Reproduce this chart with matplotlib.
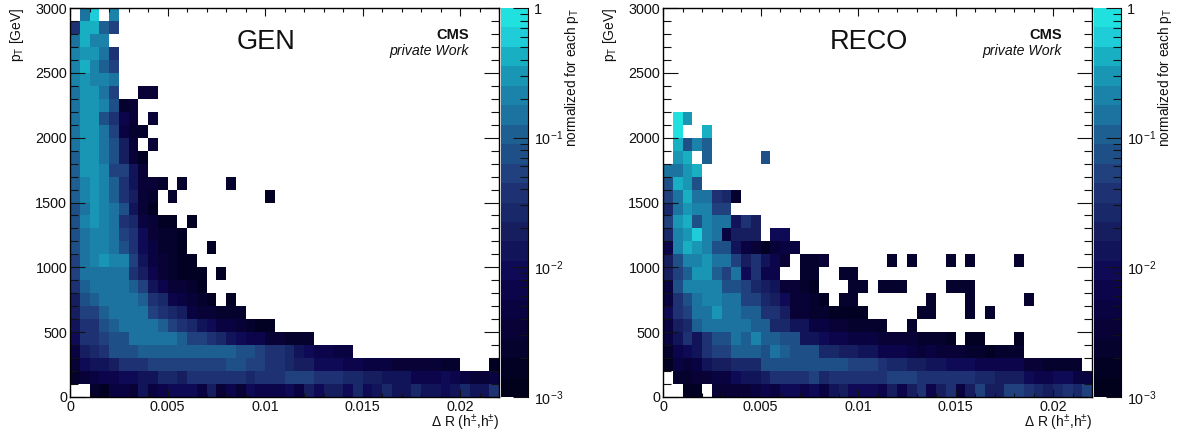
import numpy as np
import matplotlib
matplotlib.use("Agg")
import matplotlib.pyplot as plt
from matplotlib.colors import ListedColormap, BoundaryNorm
from matplotlib.ticker import FixedLocator, NullFormatter

plt.rcParams['font.family'] = ['Liberation Sans', 'DejaVu Sans']
plt.rcParams['mathtext.fontset'] = 'custom'
plt.rcParams['mathtext.rm'] = 'Liberation Sans'
plt.rcParams['mathtext.it'] = 'Liberation Sans:italic'
plt.rcParams['mathtext.bf'] = 'Liberation Sans:bold'

N = None
NCOL = 44
NROW = 30
XMAX = 0.022
YMAX = 3000
NLEV = 20

# Each cell: colour-band index (0..19); rows go from pT 0-100 upward.
gen_rows = [
 [N,N,2,1,4,4,3,7,4,5,6,6,6,4,8,3,5,3,6,5,5,5,6,4,8,6,8,8,6,9,6,7,9,7,7,9,7,7,6,7,9,7,7,10],
 [2,3,4,5,5,6,6,7,7,9,9,8,10,10,10,10,10,10,9,10,10,10,11,11,11,10,10,10,9,9,8,8,7,7,7,5,5,5,6,5,4,3,3,4],
 [3,6,7,7,8,10,10,10,11,11,11,11,11,11,11,11,12,12,11,11,10,10,9,8,8,6,6,6,5,5,4,4,4,3,3,3,3,3,2,2,N,N,N,1],
 [4,8,9,10,12,12,12,13,13,13,13,13,13,13,13,13,13,12,12,11,10,10,9,7,6,5,5,4,4],
 [6,10,10,11,12,12,14,14,14,14,14,13,11,11,10,9,7,6,5,5,3,3,2,2,2],
 [7,10,10,12,13,14,14,14,14,13,11,10,9,7,6,4,4,3,2,1,1],
 [8,11,11,13,14,14,14,14,11,10,9,8,4,3,3,2,2,2],
 [8,12,13,14,14,14,14,13,10,9,5,4,3,2,1,N,1],
 [10,13,14,14,14,14,13,11,7,5,3,3,2,1],
 [11,14,14,14,14,14,10,8,5,3,2,1,1,1,N,1],
 [11,14,15,16,15,15,11,7,4,3,2,1,1],
 [12,14,15,15,14,12,10,6,4,2,2,1,N,N,1],
 [12,14,15,15,14,11,10,6,3,2,2,1],
 [12,15,16,15,14,10,9,4,3,1,1,N,1],
 [12,14,16,15,14,12,7,3,1],
 [13,15,16,15,13,10,8,3,2,N,2,N,N,N,N,N,N,N,N,N,1],
 [13,15,16,15,13,10,7,3,3,2,N,2,N,N,N,N,2],
 [13,16,16,15,11,11,7,3],
 [13,16,16,14,12,8,3,1],
 [14,16,16,14,12,8,3,N,3],
 [14,16,16,14,11,4,2,2],
 [14,16,16,12,10,5,3,N,3],
 [14,16,16,15,12,2,3],
 [14,16,16,14,11,N,N,3,3],
 [15,16,15,15,14],
 [15,17,15,13,11],
 [15,16,16,14,10],
 [14,17,15,15],
 [10,17,17,13,11],
 [N,14,18,N,15],
]

reco_rows = [
 [N,N,1,1,N,3,3,3,3,4,5,4,6,6,5,6,4,7,8,6,6,6,5,8,5,8,10,5,8,10,4,8,11,8,8,11,11,10,9,8,9,10,9,11],
 [N,2,2,3,3,4,4,6,7,7,8,10,10,10,10,11,9,10,10,10,10,10,10,11,11,11,10,10,10,10,10,10,9,9,8,8,8,6,5,5,6,6,4,4],
 [1,4,3,4,7,8,8,9,9,9,12,12,12,12,12,12,12,12,12,11,11,11,10,9,9,8,8,7,7,6,6,6,5,5,5,5,5,3,3,2,2,2,2],
 [2,5,6,7,10,11,11,13,13,13,12,14,13,12,12,12,9,9,8,8,7,7,5,5,5,4,3,4,3,3,3,2,2,1,2,2,2],
 [4,7,10,7,10,12,12,14,13,15,13,13,12,12,7,7,6,5,5,4,4,4,3,3,3,3,2,2,2,1,N,1,1,N,N,N,1],
 [4,8,9,13,14,14,14,14,14,13,13,9,9,7,7,4,4,3,3,2,2,2,2,N,N,2],
 [6,10,11,14,14,16,14,14,13,13,10,10,8,3,3,2,2,1,1,1,1,N,N,N,N,N,2,2,N,N,N,2,N,2],
 [4,10,12,14,15,15,14,14,11,11,9,8,6,3,3,2,1,N,2,2,N,N,N,N,N,N,N,2,N,N,N,2,N,N,N,N,N,2],
 [4,12,15,15,15,15,12,12,11,9,8,7,3,3,2,1,N,N,N,2,2,N,2,2,2,N,N,N,N,2,2,2],
 [8,11,13,16,16,13,11,14,6,10,5,5,N,N,2,2,N,N,2,2],
 [8,12,15,15,16,14,14,11,8,10,7,5,3,N,2,2,3,N,N,N,N,N,N,2,N,2,N,N,N,2,N,2,N,N,N,N,2],
 [5,15,17,16,15,12,12,7,4,3,1,3,4,4],
 [9,15,16,18,15,14,4,8,8,8,N,6,6],
 [11,16,17,12,15,14,14,7,10,8],
 [9,14,16,15,15,11,11],
 [11,14,17,14,14,10,9,2],
 [12,17,16,12],
 [14,14,16,17],
 [N,16,17,N,13,N,N,N,N,N,12],
 [N,17,12,15,13],
 [N,19,N,N,17],
 [N,19,16],
 [], [], [], [], [], [], [], [],
]

panel_titles = ["GEN", "RECO"]
x_major = [0, 0.005, 0.01, 0.015, 0.02]
x_labels = ["0", "0.005", "0.01", "0.015", "0.02"]
y_major = [0, 500, 1000, 1500, 2000, 2500, 3000]
cbar_major = [1e-3, 1e-2, 1e-1, 1]
cbar_labels = ["10$^{-3}$", "10$^{-2}$", "10$^{-1}$", "1"]

band_colors = [
 (2,1,28),(3,1,35),(5,2,45),(8,2,55),(10,3,65),(12,5,75),(15,10,85),(18,20,90),
 (22,30,95),(25,40,105),(30,50,115),(32,65,125),(30,80,135),(30,95,145),(28,115,160),
 (27,130,170),(25,150,180),(25,175,195),(30,205,215),(32,224,224)]
cmap = ListedColormap([tuple(c/255 for c in col) for col in band_colors])
cmap.set_bad((1, 1, 1, 0))
norm = BoundaryNorm(np.arange(NLEV + 1) - 0.5, NLEV)

W, H = 1177, 434
fig = plt.figure(figsize=(W/100, H/100), dpi=100)

def axpx(l, t, r, b):
    return fig.add_axes([l/W, 1-b/H, (r-l)/W, (b-t)/H])

def grid(rows):
    z = np.full((NROW, NCOL), np.nan)
    for i, row in enumerate(rows):
        for j, v in enumerate(row):
            if v is not None:
                z[i, j] = v
    return np.ma.masked_invalid(z)

xedges = np.linspace(0, XMAX, NCOL + 1)
yedges = np.linspace(0, YMAX, NROW + 1)

def panel(left, rows, title):
    ax = axpx(left, 8, left + 429, 397)
    ax.pcolormesh(xedges, yedges, grid(rows), cmap=cmap, norm=norm, linewidth=0)
    ax.set_xlim(0, XMAX)
    ax.set_ylim(0, YMAX)
    ax.set_xticks(x_major, x_labels)
    ax.set_yticks(y_major)
    ax.xaxis.set_minor_locator(FixedLocator(np.arange(0, 0.0221, 0.001)))
    ax.yaxis.set_minor_locator(FixedLocator(np.arange(0, 3001, 100)))
    ax.tick_params(which='both', direction='in', top=True, right=True, colors='#111111',
                   labelsize=10.4, width=0.8, pad=2)
    ax.tick_params(axis='y', which='major', length=11)
    ax.tick_params(axis='y', which='minor', length=6)
    ax.tick_params(axis='x', which='major', length=6)
    ax.tick_params(axis='x', which='minor', length=3)
    for s in ax.spines.values():
        s.set_linewidth(1.0)
    fig.text((left + 429)/W, 1-423/H, "$\\Delta$ R (h$^{\\pm}$,h$^{\\pm}$)",
             ha='right', va='center', fontsize=10, color='#111111')
    fig.text((left - 53)/W, 1-8/H, "p$_{\\mathrm{T}}$ [GeV]", rotation=90, ha='center', va='top',
             fontsize=10, color='#111111')
    fig.text((left + 167)/W, 1-42/H, title, ha='left', va='center', fontsize=19.5, color='#111111')
    fig.text((left + 399)/W, 1-35/H, "CMS", ha='right', va='center', fontsize=10.5,
             fontweight='bold', color='#111111')
    fig.text((left + 399)/W, 1-51/H, "private Work", ha='right', va='center', fontsize=10.2,
             style='italic', color='#111111')

    cax = axpx(left + 431, 8, left + 458, 397)
    bounds = 10.0 ** np.linspace(-3, 0, NLEV + 1)
    cax.pcolormesh([0, 1], bounds, np.arange(NLEV).reshape(-1, 1), cmap=cmap, norm=norm, linewidth=0)
    cax.set_yscale('log')
    cax.set_ylim(1e-3, 1)
    cax.set_xlim(0, 1)
    cax.set_xticks([])
    cax.set_yticks(cbar_major, cbar_labels)
    minors = [m * d for d in (1e-3, 1e-2, 1e-1) for m in range(2, 10)]
    cax.yaxis.set_minor_locator(FixedLocator(minors))
    cax.yaxis.set_minor_formatter(NullFormatter())
    cax.tick_params(which='both', direction='in', left=False, right=True, labelleft=False,
                    labelright=True, colors='#111111', labelsize=10.4, width=0.8, pad=4)
    cax.tick_params(which='major', length=11)
    cax.tick_params(which='minor', length=5.5)
    for name, s in cax.spines.items():
        s.set_visible(name == 'right')
    fig.text((left + 502)/W, 1-8/H, "normalized for each p$_{\\mathrm{T}}$", rotation=90, ha='center',
             va='top', fontsize=9.8, color='#111111')

panel(70, gen_rows, panel_titles[0])
panel(663, reco_rows, panel_titles[1])

fig.savefig("out.png", dpi=100)
